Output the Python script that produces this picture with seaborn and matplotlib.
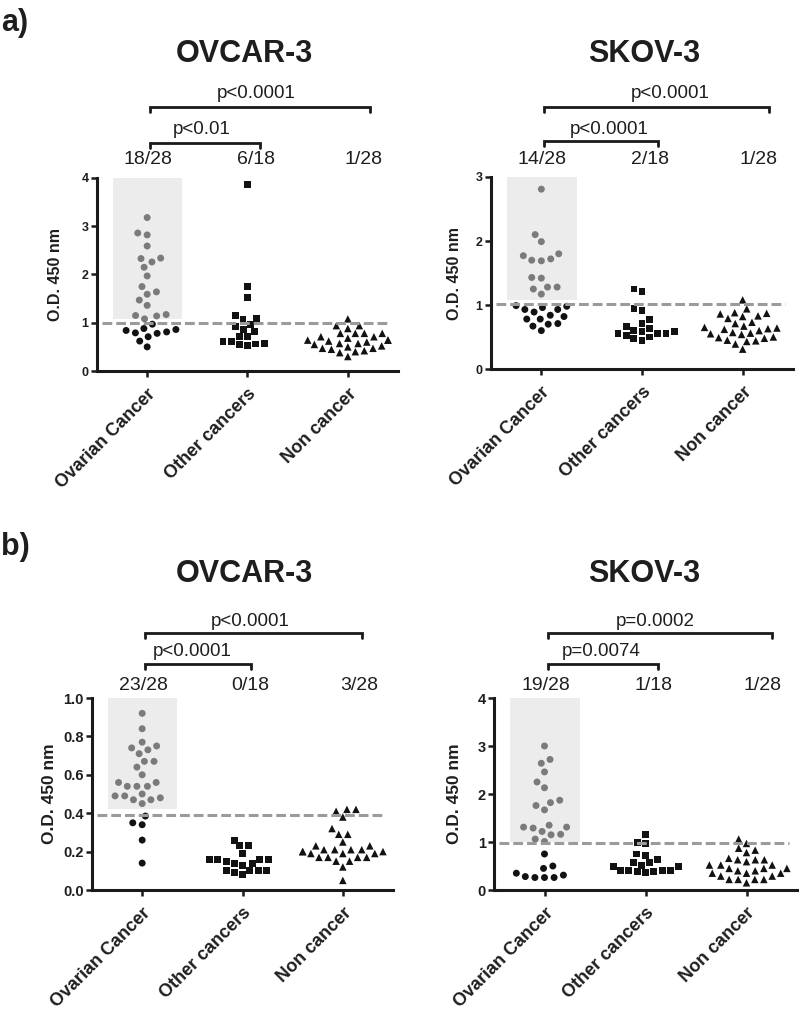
import numpy as np
import pandas as pd
import matplotlib
matplotlib.use("Agg")
import matplotlib.pyplot as plt
import seaborn as sns
from matplotlib.patches import Rectangle
from matplotlib.transforms import blended_transform_factory

sns.set_theme(style="ticks")
plt.rcParams["font.family"] = ["Liberation Sans", "DejaVu Sans"]

categories = ["Ovarian Cancer", "Other cancers", "Non cancer"]

# ---------------- a) OVCAR-3 ----------------
a_ovcar_ovarian = [3.18, 2.86, 2.82, 2.59, 2.34, 2.33, 2.26, 2.15, 1.97, 1.75, 1.64, 1.59,
                   1.47, 1.36, 1.17, 1.15, 1.14, 1.08,
                   0.97, 0.88, 0.86, 0.84, 0.81, 0.79, 0.78, 0.71, 0.62, 0.50]
a_ovcar_other = [3.86, 1.76, 1.52, 1.15, 1.08, 1.06, 0.97, 0.92, 0.86, 0.81, 0.72, 0.71,
                 0.62, 0.61, 0.57, 0.56, 0.54, 0.52]
a_ovcar_non = [1.08, 0.94, 0.94, 0.88, 0.78, 0.78, 0.78, 0.78, 0.71, 0.71, 0.68, 0.64,
               0.64, 0.64, 0.62, 0.60, 0.57, 0.57, 0.55, 0.52, 0.50, 0.47, 0.47, 0.45,
               0.42, 0.40, 0.38, 0.30]
a_ovcar_cutoff = 1.0
a_ovcar_fractions = ["18/28", "6/18", "1/28"]
a_ovcar_pvalues = ["p<0.0001", "p<0.01"]

# ---------------- a) SKOV-3 ----------------
a_skov_ovarian = [2.81, 2.10, 1.99, 1.80, 1.77, 1.72, 1.70, 1.69, 1.43, 1.42, 1.28, 1.28,
                  1.25, 1.17,
                  0.99, 0.98, 0.96, 0.93, 0.93, 0.89, 0.84, 0.82, 0.78, 0.78, 0.71, 0.70,
                  0.67, 0.60]
a_skov_other = [1.25, 1.21, 0.95, 0.91, 0.78, 0.71, 0.66, 0.63, 0.60, 0.58, 0.58, 0.56,
                0.55, 0.55, 0.53, 0.50, 0.47, 0.45]
a_skov_non = [1.08, 0.94, 0.88, 0.87, 0.86, 0.83, 0.82, 0.79, 0.73, 0.71, 0.67, 0.65,
              0.64, 0.63, 0.62, 0.60, 0.57, 0.56, 0.55, 0.54, 0.50, 0.49, 0.48, 0.45,
              0.44, 0.43, 0.39, 0.31]
a_skov_cutoff = 1.02
a_skov_fractions = ["14/28", "2/18", "1/28"]
a_skov_pvalues = ["p<0.0001", "p<0.0001"]

# ---------------- b) OVCAR-3 ----------------
b_ovcar_ovarian = [0.92, 0.84, 0.77, 0.75, 0.74, 0.73, 0.71, 0.67, 0.67, 0.64, 0.60, 0.56,
                   0.56, 0.54, 0.54, 0.54, 0.50, 0.49, 0.49, 0.48, 0.47, 0.47, 0.45,
                   0.385, 0.35, 0.34, 0.26, 0.14]
b_ovcar_other = [0.26, 0.23, 0.23, 0.19, 0.16, 0.16, 0.16, 0.16, 0.15, 0.14, 0.14, 0.13,
                 0.10, 0.10, 0.10, 0.10, 0.09, 0.08]
b_ovcar_non = [0.42, 0.42, 0.41, 0.38, 0.32, 0.29, 0.29, 0.25, 0.23, 0.23, 0.21, 0.21,
               0.21, 0.21, 0.20, 0.20, 0.20, 0.19, 0.19, 0.19, 0.17, 0.17, 0.17, 0.17,
               0.15, 0.15, 0.12, 0.05]
b_ovcar_cutoff = 0.39
b_ovcar_fractions = ["23/28", "0/18", "3/28"]
b_ovcar_pvalues = ["p<0.0001", "p<0.0001"]

# ---------------- b) SKOV-3 ----------------
b_skov_ovarian = [3.00, 2.72, 2.64, 2.46, 2.25, 2.13, 1.87, 1.82, 1.76, 1.67, 1.35, 1.31,
                  1.31, 1.29, 1.22, 1.16, 1.15, 1.06, 1.01,
                  0.75, 0.50, 0.45, 0.35, 0.31, 0.28, 0.26, 0.26, 0.26]
b_skov_other = [1.15, 0.99, 0.97, 0.75, 0.71, 0.63, 0.57, 0.57, 0.52, 0.49, 0.49, 0.41,
                0.40, 0.40, 0.40, 0.39, 0.38, 0.37]
b_skov_non = [1.06, 0.97, 0.87, 0.83, 0.78, 0.66, 0.63, 0.63, 0.63, 0.59, 0.52, 0.52,
              0.52, 0.45, 0.45, 0.45, 0.40, 0.40, 0.35, 0.35, 0.35, 0.29, 0.29, 0.22,
              0.22, 0.22, 0.22, 0.15]
b_skov_cutoff = 0.98
b_skov_fractions = ["19/28", "1/18", "1/28"]
b_skov_pvalues = ["p=0.0002", "p=0.0074"]

# ---------------- styling ----------------
W, H = 800, 1025
fig = plt.figure(figsize=(W / 100, H / 100), dpi=100)
TXT = "#1e1e1e"
GRAY_PT = "#7b7b7b"
BLACK_PT = "#121212"
markers = ["o", "s", "^"]


def px_axes(l, r, t, b):
    return fig.add_axes([l / W, 1 - b / H, (r - l) / W, (b - t) / H])


def draw_panel(ax, ov, oth, non, cutoff, ymax, yticks, yticklabels, fractions, pvals,
               shade_bottom, bracket_y, ptext_y, frac_y, long_end, short_end,
               ptext_x, tick_fs, ylab_fs, ylab_x):
    # shaded "positive" region
    ax.add_patch(Rectangle((-0.34, shade_bottom), 0.69, ymax - shade_bottom,
                           facecolor="#ececec", edgecolor="none", zorder=0))
    groups = [ov, oth, non]
    for cat, vals, mk in zip(categories, groups, markers):
        df = pd.DataFrame({"group": cat, "value": vals})
        if cat == categories[0]:
            df["cls"] = np.where(df["value"] > cutoff, "pos", "neg")
            sns.swarmplot(data=df, x="group", y="value", order=categories, hue="cls",
                          hue_order=["pos", "neg"],
                          palette={"pos": GRAY_PT, "neg": BLACK_PT},
                          marker=mk, size=5.0, linewidth=1.6, edgecolor="none",
                          legend=False, ax=ax, zorder=2)
        else:
            sns.swarmplot(data=df, x="group", y="value", order=categories,
                          color=BLACK_PT, marker=mk, size=5.4 if mk == "^" else 5.0,
                          linewidth=0.8, edgecolor="none", ax=ax, zorder=2)
    ax.plot([-0.45, 2.42], [cutoff, cutoff], color="#9b9b9b", lw=2.2,
            ls=(0, (3.2, 1.3)), zorder=5, solid_capstyle="butt")
    ax.set_xlim(-0.5, 2.5)
    ax.set_ylim(0, ymax)
    ax.set_yticks(yticks)
    ax.set_yticklabels(yticklabels, fontsize=tick_fs, fontweight="bold", color=TXT)
    ax.set_xticks(range(len(categories)))
    ax.set_xticklabels(categories, rotation=45, ha="right", rotation_mode="anchor",
                       fontsize=13, fontweight="bold", color=TXT)
    ax.set_xlabel("")
    ax.set_ylabel("O.D. 450 nm", fontsize=ylab_fs, fontweight="bold", color=TXT)
    ax.yaxis.set_label_coords(ylab_x, 0.5)
    for s in ["top", "right"]:
        ax.spines[s].set_visible(False)
    for s in ["left", "bottom"]:
        ax.spines[s].set_linewidth(2.2)
        ax.spines[s].set_color("#1a1a1a")
    ax.tick_params(axis="both", direction="out", length=4.5, width=1.8, color="#1a1a1a")
    ax.tick_params(axis="x", pad=6)
    ax.tick_params(axis="y", pad=1.5)
    ax.set_facecolor("none")

    tr = blended_transform_factory(ax.transData, fig.transFigure)
    fy = lambda p: 1 - p / H
    tick = 5
    # brackets
    for (x1, yb) in [(long_end, bracket_y[0]), (short_end, bracket_y[1])]:
        ax.plot([0.03, 0.03, x1, x1], [fy(yb + tick), fy(yb), fy(yb), fy(yb + tick)],
                transform=tr, color="#1a1a1a", lw=2.0, clip_on=False,
                solid_joinstyle="miter")
    for txt, xc, yc in zip(pvals, ptext_x, ptext_y):
        ax.text(xc, fy(yc), txt, transform=tr, ha="center", va="center",
                fontsize=13.5, color=TXT)
    for i, f in enumerate(fractions):
        ax.text(i + [0.01, 0.08, 0.16][i], fy(frac_y), f, transform=tr, ha="center",
                va="center", fontsize=14, color=TXT)


ax1 = px_axes(97, 398, 178, 371)
draw_panel(ax1, a_ovcar_ovarian, a_ovcar_other, a_ovcar_non, a_ovcar_cutoff, 4,
           [0, 1, 2, 3, 4], ["0", "1", "2", "3", "4"], a_ovcar_fractions, a_ovcar_pvalues,
           1.08, (107, 143), (93, 130), 160, 2.22, 1.12, (1.09, 0.54), 9, 11.5, -0.113)

ax2 = px_axes(491, 793, 177, 369)
draw_panel(ax2, a_skov_ovarian, a_skov_other, a_skov_non, a_skov_cutoff, 3,
           [0, 1, 2, 3], ["0", "1", "2", "3"], a_skov_fractions, a_skov_pvalues,
           1.08, (107, 141), (93, 130), 160, 2.26, 1.16, (1.28, 0.67), 9, 11.5, -0.095)

ax3 = px_axes(92, 393, 698, 890)
draw_panel(ax3, b_ovcar_ovarian, b_ovcar_other, b_ovcar_non, b_ovcar_cutoff, 1.0,
           [0, 0.2, 0.4, 0.6, 0.8, 1.0], ["0.0", "0.2", "0.4", "0.6", "0.8", "1.0"],
           b_ovcar_fractions, b_ovcar_pvalues,
           0.42, (633, 664), (621, 652), 685, 2.19, 1.08, (1.08, 0.50), 10.5, 12.5, -0.116)

ax4 = px_axes(494, 797, 698, 890)
draw_panel(ax4, b_skov_ovarian, b_skov_other, b_skov_non, b_skov_cutoff, 4,
           [0, 1, 2, 3, 4], ["0", "1", "2", "3", "4"], b_skov_fractions, b_skov_pvalues,
           1.0, (633, 664), (621, 652), 685, 2.25, 1.12, (1.10, 0.56), 10.5, 12.5, -0.105)

# titles and panel letters
for txt, x, y in [("OVCAR-3", 244, 54), ("SKOV-3", 644, 54),
                  ("OVCAR-3", 244, 574), ("SKOV-3", 644, 574)]:
    fig.text(x / W, 1 - y / H, txt, ha="center", va="center", fontsize=22,
             fontweight="bold", color=TXT)
for txt, y in [("a)", 23), ("b)", 547)]:
    fig.text(1 / W, 1 - y / H, txt, ha="left", va="center", fontsize=22,
             fontweight="bold", color=TXT)

fig.savefig("out.png", dpi=100)
